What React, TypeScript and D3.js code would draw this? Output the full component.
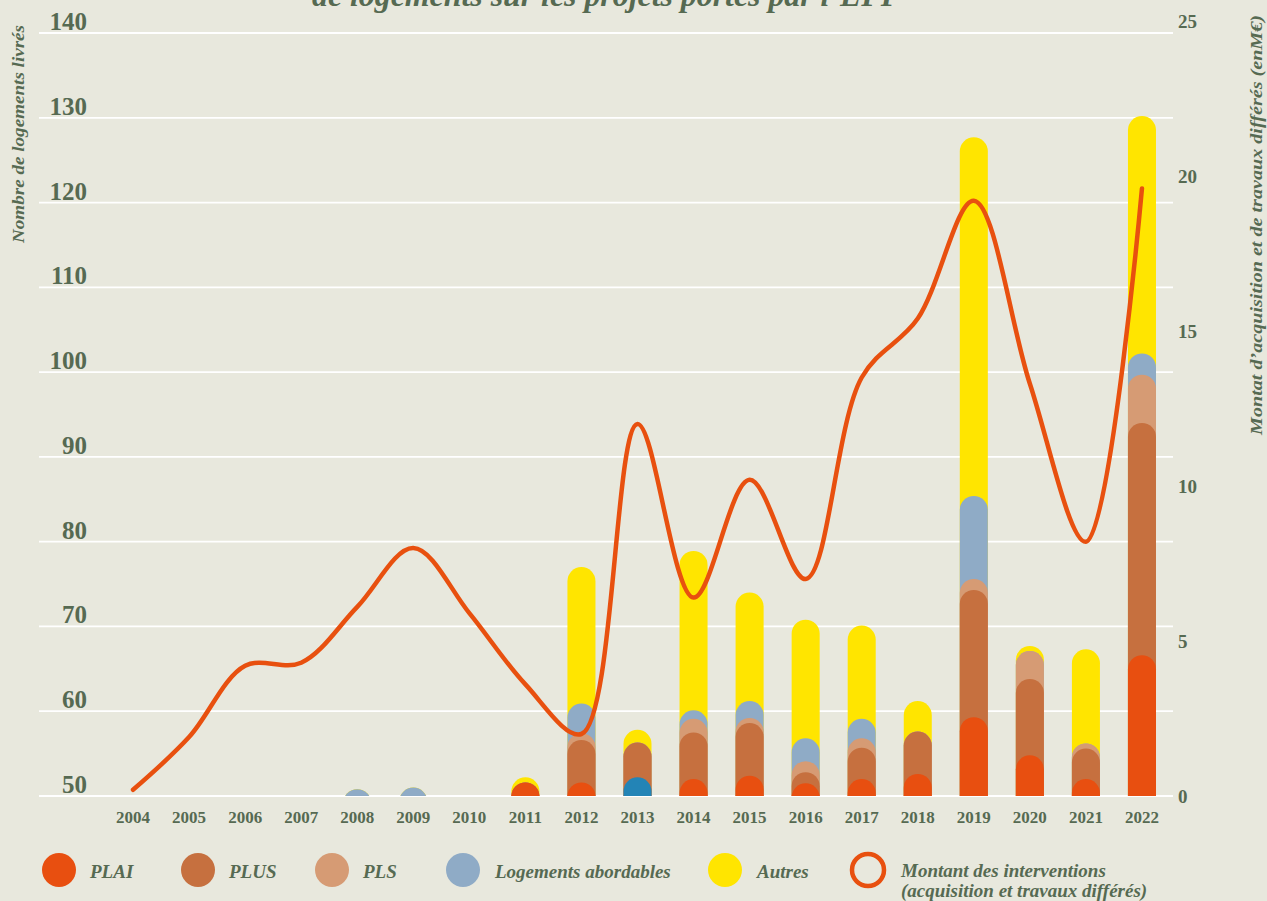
import React from "react";
import * as d3 from "d3";

// années
const years = [
  "2004", "2005", "2006", "2007", "2008", "2009", "2010", "2011", "2012", "2013",
  "2014", "2015", "2016", "2017", "2018", "2019", "2020", "2021", "2022",
];

// logements livrés par type (empilés au-dessus de 50)
const plai = [0, 0, 0, 0, 0, 0, 0, 1.6, 1.6, 2.2, 2.0, 2.4, 1.5, 2.0, 2.6, 9.3, 4.8, 2.0, 16.6];
const plus = [0, 0, 0, 0, 0, 0, 0, 0, 5.0, 4.1, 5.5, 6.2, 1.3, 3.7, 5.0, 15.0, 9.0, 3.6, 27.4];
const pls = [0, 0, 0, 0, 0, 0, 0, 0, 0.8, 0, 1.6, 0.6, 1.3, 1.1, 0, 1.3, 3.3, 0.6, 5.7];
const abordables = [0, 0, 0, 0, 0.8, 1.0, 0, 0, 3.5, 0, 1.0, 2.0, 2.7, 2.3, 0, 9.8, 0, 0, 2.5];
const autres = [0, 0, 0, 0, 0, 0, 0, 0.6, 16.1, 1.5, 18.8, 12.8, 14.0, 11.0, 3.6, 42.3, 0.6, 11.1, 28.0];

// montant des interventions (M€)
const montant = [0.2, 1.9, 4.2, 4.3, 6.1, 8.0, 5.9, 3.6, 2.0, 12.0, 6.4, 10.2, 7.0, 13.5, 15.4, 19.2, 13.3, 8.2, 19.6];

const leftTicks = [50, 60, 70, 80, 90, 100, 110, 120, 130, 140];
const rightTicks = [0, 5, 10, 15, 20, 25];

const keys = ["PLAI", "PLUS", "PLS", "Logements abordables", "Autres"];
const colors: Record<string, string> = {
  PLAI: "#e84f10",
  PLUS: "#c6703f",
  PLS: "#d69b74",
  "Logements abordables": "#8fabc6",
  Autres: "#ffe500",
};
// 2013 : pastille PLAI en bleu foncé sur l'original
const highlightYear = "2013";
const highlightColor = "#2384b6";

const W = 1267;
const H = 901;
const bg = "#e8e8dd";
const ink = "#566a52";
const lineColor = "#e8500f";
const serif = "'Liberation Serif', 'DejaVu Serif', serif";

const x = d3.scaleBand<string>().domain(years).range([105, 1170]).paddingInner(0.5).paddingOuter(0.25);
const yL = d3.scaleLinear().domain([50, 140]).range([796, 33]);
const yR = d3.scaleLinear().domain([0, 25]).range([796, 21]);

const rows = years.map((year, i) => ({
  year,
  PLAI: plai[i],
  PLUS: plus[i],
  PLS: pls[i],
  "Logements abordables": abordables[i],
  Autres: autres[i],
}));
const stacked = d3.stack<any>().keys(keys)(rows);

const line = d3
  .line<number>()
  .x((_, i) => (x(years[i]) as number) + x.bandwidth() / 2)
  .y((d) => yR(d))
  .curve(d3.curveCatmullRom.alpha(0.5));

const legend = [
  { label: "PLAI", cx: 59, tx: 90 },
  { label: "PLUS", cx: 198, tx: 229 },
  { label: "PLS", cx: 332, tx: 363 },
  { label: "Logements abordables", cx: 463, tx: 495 },
  { label: "Autres", cx: 725, tx: 757 },
];

export default function App() {
  const bw = x.bandwidth();
  const base = yL(50);
  return (
    <svg
      width={W}
      height={H}
      style={{ position: "absolute", left: 0, top: 0, background: bg }}
      fontFamily={serif}
    >
      <defs>
        <clipPath id="plot-clip">
          <rect x={0} y={0} width={W} height={base} />
        </clipPath>
      </defs>
      <rect width={W} height={H} fill={bg} />

      {/* titre (coupé en haut) */}
      <text
        x={607}
        y={6}
        textAnchor="middle"
        fontSize={31}
        fontWeight="bold"
        fontStyle="italic"
        fill={ink}
        textLength={590}
        lengthAdjust="spacingAndGlyphs"
      >
        de logements sur les projets portés par l’EPF
      </text>

      {/* grille */}
      {leftTicks.map((t) => (
        <line key={t} x1={39} x2={1173} y1={yL(t)} y2={yL(t)} stroke="#ffffff" strokeWidth={1.8} />
      ))}
      {leftTicks.map((t) => (
        <text key={t} x={87} y={yL(t) - 3} textAnchor="end" fontSize={25} fontWeight="bold" fill={ink}>
          {t}
        </text>
      ))}
      {rightTicks.map((t) => (
        <text key={t} x={1178} y={yR(t)} dy="0.35em" fontSize={19} fontWeight="bold" fill={ink}>
          {t}
        </text>
      ))}

      <text
        transform="translate(24,134) rotate(-90)"
        textAnchor="middle"
        fontSize={16}
        fontWeight="bold"
        fontStyle="italic"
        fill={ink}
        textLength={218}
        lengthAdjust="spacingAndGlyphs"
      >
        Nombre de logements livrés
      </text>
      <text
        transform="translate(1262,225) rotate(-90)"
        textAnchor="middle"
        fontSize={16}
        fontWeight="bold"
        fontStyle="italic"
        fill={ink}
        textLength={420}
        lengthAdjust="spacingAndGlyphs"
      >
        Montat d’acquisition et de travaux différés (enM€)
      </text>

      {/* barres : une pilule par cumul, de la plus haute à la plus basse */}
      <g clipPath="url(#plot-clip)">
        {stacked
          .slice()
          .reverse()
          .map((s) => (
            <g key={s.key}>
              {s.map((d: any, i: number) => {
                const top = yL(50 + d[1]);
                const fill = s.key === "PLAI" && years[i] === highlightYear ? highlightColor : colors[s.key];
                return (
                  <rect
                    key={years[i]}
                    x={x(years[i])}
                    y={top}
                    width={bw}
                    height={base - top + bw}
                    rx={bw / 2}
                    ry={bw / 2}
                    fill={fill}
                  />
                );
              })}
            </g>
          ))}
      </g>

      {/* courbe des montants */}
      <path
        d={line(montant) || ""}
        fill="none"
        stroke={lineColor}
        strokeWidth={4.5}
        strokeLinecap="round"
        strokeLinejoin="round"
      />

      {/* années */}
      {years.map((yr) => (
        <text
          key={yr}
          x={(x(yr) as number) + bw / 2}
          y={823}
          textAnchor="middle"
          fontSize={17}
          fontWeight="bold"
          fill={ink}
        >
          {yr}
        </text>
      ))}

      {/* légende */}
      {legend.map((l) => (
        <g key={l.label}>
          <circle cx={l.cx} cy={870} r={17} fill={colors[l.label]} />
          <text x={l.tx} y={878} fontSize={19} fontWeight="bold" fontStyle="italic" fill={ink}>
            {l.label}
          </text>
        </g>
      ))}
      <circle cx={868} cy={870} r={16} fill="none" stroke={lineColor} strokeWidth={4.5} />
      <text x={901} y={877} fontSize={19} fontWeight="bold" fontStyle="italic" fill={ink}>
        Montant des interventions
      </text>
      <text x={901} y={897} fontSize={19} fontWeight="bold" fontStyle="italic" fill={ink}>
        (acquisition et travaux différés)
      </text>
    </svg>
  );
}
